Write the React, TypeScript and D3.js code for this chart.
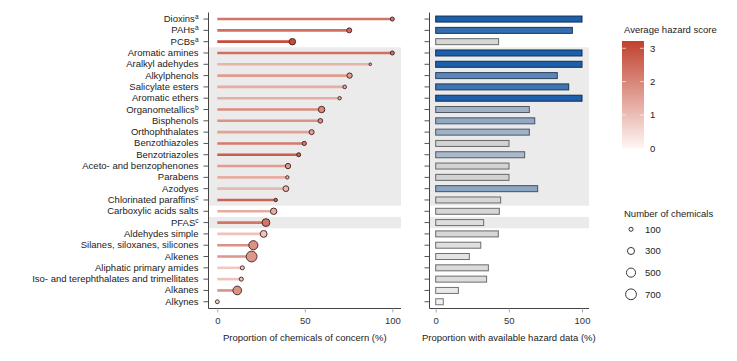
import React, { useEffect, useRef } from 'react';
import * as d3 from 'd3';

// Chemical classes, top to bottom
const categories = [
  'Dioxins', 'PAHs', 'PCBs', 'Aromatic amines', 'Aralkyl adehydes', 'Alkylphenols',
  'Salicylate esters', 'Aromatic ethers', 'Organometallics', 'Bisphenols', 'Orthophthalates',
  'Benzothiazoles', 'Benzotriazoles', 'Aceto- and benzophenones', 'Parabens', 'Azodyes',
  'Chlorinated paraffins', 'Carboxylic acids salts', 'PFAS', 'Aldehydes simple',
  'Silanes, siloxanes, silicones', 'Alkenes', 'Aliphatic primary amides',
  'Iso- and terephthalates and trimellitates', 'Alkanes', 'Alkynes'
];
const superscripts: Record<string, string> = {
  Dioxins: 'a', PAHs: 'a', PCBs: 'a', Organometallics: 'b',
  'Chlorinated paraffins': 'c', PFAS: 'c'
};
const shadedRows = [
  'Aromatic amines', 'Aralkyl adehydes', 'Alkylphenols', 'Salicylate esters', 'Aromatic ethers',
  'Organometallics', 'Bisphenols', 'Orthophthalates', 'Benzothiazoles', 'Benzotriazoles',
  'Aceto- and benzophenones', 'Parabens', 'Azodyes', 'Chlorinated paraffins', 'PFAS'
];

// Proportion of chemicals of concern (%)
const concern = [100, 75.4, 42.9, 100, 87.4, 75.6, 72.8, 69.9, 59.6, 58.9, 53.9, 49.7, 46.5,
  40.4, 40.0, 39.2, 33.4, 32.2, 27.8, 26.5, 20.6, 19.6, 14.3, 13.7, 11.4, 0];
// Average hazard score
const hazardScore = [2.3, 2.4, 3.0, 2.4, 1.2, 1.6, 1.3, 1.3, 1.9, 1.8, 1.5, 2.2, 2.7,
  1.6, 1.3, 1.1, 2.6, 1.3, 2.3, 0.9, 1.8, 1.7, 0.8, 0.9, 1.8, 0.6];
// Number of chemicals
const nChemicals = [100, 150, 250, 100, 40, 170, 80, 70, 250, 130, 150, 110, 100,
  170, 70, 200, 70, 250, 370, 280, 500, 700, 100, 100, 450, 90];
// Proportion with available hazard data (%)
const hazardData = [100, 93.4, 43.0, 100, 100, 83.1, 90.9, 100, 64.0, 67.7, 64.0, 50.1, 60.8,
  50.1, 50.1, 69.7, 44.4, 43.5, 32.8, 42.8, 30.8, 23.0, 36.0, 34.8, 15.5, 5.2];

const hazardTicks = [0, 1, 2, 3];
const sizeTicks = [100, 300, 500, 700];
const xTicks = [0, 50, 100];

const FONT = '"Liberation Sans", Arial, Helvetica, sans-serif';

const App = () => {
  const svgRef = useRef<SVGSVGElement | null>(null);

  useEffect(() => {
    if (!svgRef.current) return;
    const svg = d3.select(svgRef.current);
    svg.selectAll('*').remove();
    svg.attr('font-family', FONT);

    const rows = categories.map((name, i) => ({
      name, concern: concern[i], hazard: hazardScore[i], n: nChemicals[i], avail: hazardData[i]
    }));

    const y = d3.scaleBand().domain(categories).range([13.4, 307.4]);
    const yc = (name: string) => (y(name) as number) + y.bandwidth() / 2;

    const xL = d3.scaleLinear().domain([0, 100]).range([217.3, 392.3]);
    const xR = d3.scaleLinear().domain([0, 100]).range([435.7, 582]);
    const panelL = { x0: 208.5, x1: 401 };
    const panelR = { x0: 429.5, x1: 589 };
    const axisY = 308.5;

    const hazardColor = d3.scaleLinear<string>()
      .domain([0, 3.22]).range(['#fff6f4', '#c0412d']).interpolate(d3.interpolateRgb);
    const size = d3.scaleSqrt().domain([0, 700]).range([0, 5.4]);
    const availColor = d3.scaleLinear<string>()
      .domain([0, 50, 100]).range(['#f3f3f3', '#d2d2d2', '#1d5fab']);

    // shaded background bands (merge contiguous runs)
    const runs: { start: string; end: string }[] = [];
    categories.forEach((c, i) => {
      if (!shadedRows.includes(c)) return;
      const last = runs[runs.length - 1];
      if (last && categories.indexOf(last.end) === i - 1) last.end = c;
      else runs.push({ start: c, end: c });
    });
    [panelL, panelR].forEach(p => {
      runs.forEach(r => {
        svg.append('rect')
          .attr('x', p.x0).attr('width', p.x1 - p.x0)
          .attr('y', y(r.start) as number)
          .attr('height', (y(r.end) as number) + y.bandwidth() - (y(r.start) as number))
          .attr('fill', '#ebebeb');
      });
    });

    // left y axis with category labels
    const gL = svg.append('g').attr('transform', `translate(${panelL.x0},0)`)
      .call(d3.axisLeft(y).tickSize(5).tickSizeOuter(0).tickPadding(5));
    gL.select('.domain').remove();
    gL.selectAll('.tick line').attr('stroke', '#555');
    gL.selectAll<SVGTextElement, string>('.tick text')
      .attr('font-size', 9.5).attr('fill', '#222').attr('font-family', FONT)
      .each(function (d) {
        const t = d3.select(this);
        t.text(null);
        t.append('tspan').text(d);
        if (superscripts[d]) {
          t.append('tspan').attr('font-size', 6.5).attr('dy', '-0.45em').text(superscripts[d]);
        }
      });

    // right y axis, ticks only
    const gR = svg.append('g').attr('transform', `translate(${panelR.x0},0)`)
      .call(d3.axisLeft(y).tickSize(5).tickSizeOuter(0).tickFormat(() => ''));
    gR.select('.domain').remove();
    gR.selectAll('.tick line').attr('stroke', '#555');

    // axis lines
    [panelL, panelR].forEach(p => {
      svg.append('line').attr('x1', p.x0).attr('x2', p.x0).attr('y1', 12.5).attr('y2', axisY)
        .attr('stroke', '#444');
      svg.append('line').attr('x1', p.x0).attr('x2', p.x1).attr('y1', axisY).attr('y2', axisY)
        .attr('stroke', '#444');
    });

    // bottom axes
    const bottom = (scale: d3.ScaleLinear<number, number>, title: string) => {
      const g = svg.append('g').attr('transform', `translate(0,${axisY})`)
        .call(d3.axisBottom(scale).tickValues(xTicks).tickSize(4).tickPadding(5).tickSizeOuter(0));
      g.select('.domain').remove();
      g.selectAll('.tick line').attr('stroke', '#aaa');
      g.selectAll('.tick text').attr('font-size', 9.5).attr('fill', '#333').attr('font-family', FONT);
      svg.append('text')
        .attr('x', (scale.range()[0] + scale.range()[1]) / 2).attr('y', 341)
        .attr('text-anchor', 'middle').attr('font-size', 9.5).attr('fill', '#222')
        .text(title);
    };
    bottom(xL, 'Proportion of chemicals of concern (%)');
    bottom(xR, 'Proportion with available hazard data (%)');

    // lollipops
    svg.append('g').selectAll('line').data(rows).join('line')
      .attr('x1', xL(0)).attr('x2', d => xL(d.concern))
      .attr('y1', d => yc(d.name)).attr('y2', d => yc(d.name))
      .attr('stroke', d => hazardColor(d.hazard)).attr('stroke-width', 2.6);
    svg.append('g').selectAll('circle').data(rows).join('circle')
      .attr('cx', d => xL(d.concern)).attr('cy', d => yc(d.name))
      .attr('r', d => size(d.n))
      .attr('fill', d => hazardColor(d.hazard))
      .attr('stroke', '#3a1f1a').attr('stroke-width', 0.9);

    // bars
    const barH = 6;
    svg.append('g').selectAll('rect').data(rows).join('rect')
      .attr('x', xR(0)).attr('width', d => xR(d.avail) - xR(0))
      .attr('y', d => yc(d.name) - barH / 2).attr('height', barH)
      .attr('fill', d => availColor(d.avail))
      .attr('stroke', d => d3.color(availColor(d.avail))!.darker(2).formatHex())
      .attr('stroke-width', 1);

    // hazard colour legend
    const lg = { x: 622, w: 22, top: 41, bottom: 148.3 };
    const hy = d3.scaleLinear().domain([0, 3]).range([148.3, 48.3]);
    svg.append('text').attr('x', 624).attr('y', 32.5).attr('font-size', 9.5).attr('fill', '#222')
      .text('Average hazard score');
    const defs = svg.append('defs');
    const grad = defs.append('linearGradient').attr('id', 'hazGrad')
      .attr('x1', 0).attr('x2', 0).attr('y1', 1).attr('y2', 0);
    d3.range(0, 1.001, 0.1).forEach(t => {
      grad.append('stop').attr('offset', t).attr('stop-color', hazardColor(t * 3.22));
    });
    svg.append('rect').attr('x', lg.x).attr('y', lg.top).attr('width', lg.w)
      .attr('height', lg.bottom - lg.top).attr('fill', 'url(#hazGrad)');
    hazardTicks.forEach(t => {
      svg.append('line').attr('x1', lg.x).attr('x2', lg.x + 4).attr('y1', hy(t)).attr('y2', hy(t))
        .attr('stroke', '#fff').attr('stroke-width', 0.8).attr('opacity', 0.8);
      svg.append('line').attr('x1', lg.x + lg.w - 4).attr('x2', lg.x + lg.w).attr('y1', hy(t)).attr('y2', hy(t))
        .attr('stroke', '#fff').attr('stroke-width', 0.8).attr('opacity', 0.8);
      svg.append('text').attr('x', 650).attr('y', hy(t)).attr('dy', '0.35em')
        .attr('font-size', 9.5).attr('fill', '#222').text(t);
    });

    // size legend
    svg.append('text').attr('x', 624).attr('y', 217).attr('font-size', 9.5).attr('fill', '#222')
      .text('Number of chemicals');
    const sy = d3.scalePoint<number>().domain(sizeTicks).range([229.3, 294.3]);
    sizeTicks.forEach(s => {
      svg.append('circle').attr('cx', 631).attr('cy', sy(s) as number).attr('r', size(s))
        .attr('fill', '#fff').attr('stroke', '#222').attr('stroke-width', 0.9);
      svg.append('text').attr('x', 645).attr('y', sy(s) as number).attr('dy', '0.35em')
        .attr('font-size', 9.5).attr('fill', '#222').text(s);
    });
  }, []);

  return (
    <svg ref={svgRef} width={737} height={361}
      style={{ position: 'absolute', left: 0, top: 0, background: '#fff' }} />
  );
};

export default App;
